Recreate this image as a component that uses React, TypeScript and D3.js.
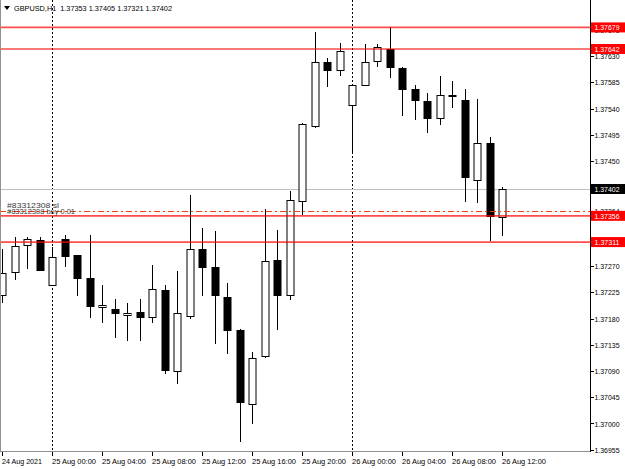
import React from 'react';
import * as d3 from 'd3';

const symbolTitle = 'GBPUSD,H1';
const headerValues = ['1.37353', '1.37405', '1.37321', '1.37402'];

const times = [
  '24 Aug 20:00', '24 Aug 21:00', '24 Aug 22:00', '24 Aug 23:00',
  '25 Aug 00:00', '25 Aug 01:00', '25 Aug 02:00', '25 Aug 03:00',
  '25 Aug 04:00', '25 Aug 05:00', '25 Aug 06:00', '25 Aug 07:00',
  '25 Aug 08:00', '25 Aug 09:00', '25 Aug 10:00', '25 Aug 11:00',
  '25 Aug 12:00', '25 Aug 13:00', '25 Aug 14:00', '25 Aug 15:00',
  '25 Aug 16:00', '25 Aug 17:00', '25 Aug 18:00', '25 Aug 19:00',
  '25 Aug 20:00', '25 Aug 21:00', '25 Aug 22:00', '25 Aug 23:00',
  '26 Aug 00:00', '26 Aug 01:00', '26 Aug 02:00', '26 Aug 03:00',
  '26 Aug 04:00', '26 Aug 05:00', '26 Aug 06:00', '26 Aug 07:00',
  '26 Aug 08:00', '26 Aug 09:00', '26 Aug 10:00', '26 Aug 11:00',
  '26 Aug 12:00',
];

const opens = [
  1.37219, 1.37258, 1.37305, 1.37314, 1.37236, 1.37317, 1.37288, 1.37249,
  1.37198, 1.37196, 1.37184, 1.37191, 1.37181, 1.37229, 1.37089, 1.37183,
  1.37299, 1.37268, 1.37217, 1.37160, 1.37031, 1.37114, 1.37281, 1.37218,
  1.37380, 1.37509, 1.37620, 1.37605, 1.37545, 1.37579, 1.37619, 1.37642,
  1.37609, 1.37573, 1.37553, 1.37522, 1.37564, 1.37554, 1.37416, 1.37481,
  1.37353,
];
const highs = [
  1.37300, 1.37319, 1.37319, 1.37320, 1.37303, 1.37323, 1.37289, 1.37323,
  1.37237, 1.37213, 1.37207, 1.37214, 1.37271, 1.37237, 1.37262, 1.37392,
  1.37336, 1.37330, 1.37241, 1.37162, 1.37123, 1.37367, 1.37331, 1.37399,
  1.37516, 1.37672, 1.37627, 1.37652, 1.37581, 1.37651, 1.37651, 1.37679,
  1.37611, 1.37580, 1.37566, 1.37596, 1.37587, 1.37573, 1.37556, 1.37491,
  1.37405,
];
const lows = [
  1.37207, 1.37246, 1.37265, 1.37261, 1.37235, 1.37269, 1.37219, 1.37181,
  1.37172, 1.37146, 1.37141, 1.37142, 1.37172, 1.37085, 1.37068, 1.37179,
  1.37219, 1.37136, 1.37119, 1.36969, 1.36999, 1.37112, 1.37161, 1.37211,
  1.37358, 1.37507, 1.37576, 1.37596, 1.37463, 1.37579, 1.37611, 1.37592,
  1.37528, 1.37520, 1.37498, 1.37511, 1.37541, 1.37379, 1.37378, 1.37313,
  1.37321,
];
const closes = [
  1.37258, 1.37305, 1.37317, 1.37262, 1.37286, 1.37286, 1.37248, 1.37199,
  1.37203, 1.37188, 1.37190, 1.37181, 1.37230, 1.37090, 1.37190, 1.37299,
  1.37267, 1.37218, 1.37158, 1.37036, 1.37112, 1.37279, 1.37219, 1.37383,
  1.37513, 1.37620, 1.37605, 1.37639, 1.37581, 1.37619, 1.37645, 1.37609,
  1.37571, 1.37552, 1.37522, 1.37564, 1.37560, 1.37421, 1.37481, 1.37354,
  1.37402,
];

const xTickIndex = [0, 4, 8, 12, 16, 20, 24, 28, 32, 36, 40];
const xTickLabels = [
  '24 Aug 2021', '25 Aug 00:00', '25 Aug 04:00', '25 Aug 08:00', '25 Aug 12:00',
  '25 Aug 16:00', '25 Aug 20:00', '26 Aug 00:00', '26 Aug 04:00', '26 Aug 08:00',
  '26 Aug 12:00',
];
const daySeparatorIndex = [4, 28];

const yTicks = [
  1.36955, 1.37000, 1.37045, 1.37090, 1.37135, 1.37180, 1.37225, 1.37270,
  1.37315, 1.37360, 1.37405, 1.37450, 1.37495, 1.37540, 1.37585, 1.37630,
  1.37675,
];

const hLines = [1.37679, 1.37642, 1.37356, 1.37311];
const bidPrice = 1.37402;
const orderPrice = 1.37364;
const orderSlLabel = '#83312308 sl';
const orderBuyLabel = '#83312308 buy 0.01';

const W = 625;
const H = 469;
const plotRight = 590;
const plotBottom = 452;
const FONT = "'Liberation Sans', Arial, sans-serif";

export default function App() {
  const x = d3.scalePoint<string>().domain(times).range([2.5, 502.5]);
  const y = d3.scaleLinear().domain([1.36955, 1.3763]).range([449.75, 56]);
  const cx = (i: number) => Math.floor(x(times[i]) as number) + 0.5;
  const ry = (p: number) => Math.round(y(p));

  const candles = times.map((t, i) => {
    const o = opens[i], c = closes[i], h = highs[i], l = lows[i];
    const bull = c >= o;
    const top = ry(Math.max(o, c));
    const bot = Math.max(ry(Math.min(o, c)), top + 1);
    const xc = cx(i);
    return (
      <g key={t}>
        <line x1={xc} x2={xc} y1={ry(h)} y2={ry(l)} stroke="#000" strokeWidth={1} />
        {bull ? (
          <rect x={xc - 3.5} y={top + 0.5} width={7} height={Math.max(bot - top - 1, 0.5)}
            fill="#fff" stroke="#000" strokeWidth={1} />
        ) : (
          <rect x={xc - 4} y={top} width={8} height={Math.max(bot - top, 1)} fill="#000" />
        )}
      </g>
    );
  });

  const boxH = 10;
  const header = `${symbolTitle}  ${headerValues.join(' ')}`;

  return (
    <svg width={W} height={H} style={{ position: 'absolute', left: 0, top: 0, display: 'block', background: '#fff' }}
      fontFamily={FONT}>
      <rect x={0} y={0} width={W} height={H} fill="#fff" />

      {/* day separators */}
      {daySeparatorIndex.map((i) => (
        <line key={'ds' + i} x1={cx(i)} x2={cx(i)} y1={0} y2={plotBottom}
          stroke="#000" strokeWidth={1} strokeDasharray="2,2" />
      ))}

      {/* bid line */}
      <line x1={0} x2={plotRight} y1={ry(bidPrice) + 0.5} y2={ry(bidPrice) + 0.5} stroke="#c0c0c0" strokeWidth={1} />

      {candles}

      {/* order line */}
      <line x1={0} x2={plotRight} y1={ry(orderPrice) + 0.5} y2={ry(orderPrice) + 0.5}
        stroke="#ff3c00" strokeWidth={1} strokeDasharray="6,3,2,3" />

      {/* horizontal red lines */}
      {hLines.map((p) => (
        <line key={'h' + p} x1={0} x2={plotRight} y1={y(p)} y2={y(p)}
          stroke="#ff0000" strokeWidth={1.6} opacity={0.7} />
      ))}

      {/* order labels */}
      <text x={7} y={207.5} fontSize={8} fill="#3a3a3a" textLength={52} lengthAdjust="spacingAndGlyphs">{orderSlLabel}</text>
      <text x={7} y={213.5} fontSize={8} fill="#3a3a3a" textLength={68} lengthAdjust="spacingAndGlyphs">{orderBuyLabel}</text>

      {/* frame */}
      <line x1={0.5} x2={0.5} y1={0} y2={plotBottom} stroke="#909090" strokeWidth={1} />
      <line x1={0} x2={plotRight} y1={plotBottom - 0.5} y2={plotBottom - 0.5} stroke="#909090" strokeWidth={1} />
      <line x1={plotRight + 0.5} x2={plotRight + 0.5} y1={0} y2={plotBottom} stroke="#000" strokeWidth={1} />

      {/* y axis ticks & labels */}
      {yTicks.map((p) => (
        <g key={'yt' + p}>
          <line x1={plotRight} x2={plotRight + 4} y1={ry(p) + 0.5} y2={ry(p) + 0.5} stroke="#000" />
          <text x={594.5} y={y(p) + 3} fontSize={8} fill="#000" textLength={25} lengthAdjust="spacingAndGlyphs">{p.toFixed(5)}</text>
        </g>
      ))}
      <text x={594.5} y={y(orderPrice) + 3} fontSize={8} fill="#000" textLength={25} lengthAdjust="spacingAndGlyphs">{orderPrice.toFixed(5)}</text>

      {/* price boxes */}
      {hLines.map((p) => (
        <g key={'hb' + p}>
          <rect x={591} y={y(p) - boxH / 2} width={34} height={boxH} fill="#ff0000" />
          <text x={594.5} y={y(p) + 3} fontSize={8} fill="#fff" textLength={25} lengthAdjust="spacingAndGlyphs">{p.toFixed(5)}</text>
        </g>
      ))}
      <rect x={591} y={y(bidPrice) - boxH / 2} width={34} height={boxH} fill="#000" />
      <text x={594.5} y={y(bidPrice) + 3} fontSize={8} fill="#fff" textLength={25} lengthAdjust="spacingAndGlyphs">{bidPrice.toFixed(5)}</text>

      {/* x axis ticks & labels */}
      {xTickIndex.map((i, k) => (
        <g key={'xt' + i}>
          <line x1={cx(i)} x2={cx(i)} y1={plotBottom} y2={plotBottom + 4} stroke="#000" />
          <text x={cx(i) - 0.5} y={463.5} fontSize={8} fill="#000"
            textLength={k === 0 ? 40 : 44} lengthAdjust="spacingAndGlyphs">{xTickLabels[k]}</text>
        </g>
      ))}

      {/* header */}
      <path d="M4,6 L10,6 L7,10 Z" fill="#000" />
      <text x={14} y={11} fontSize={8} fill="#000" textLength={158} lengthAdjust="spacingAndGlyphs"
        style={{ whiteSpace: 'pre' }}>{header}</text>
    </svg>
  );
}
